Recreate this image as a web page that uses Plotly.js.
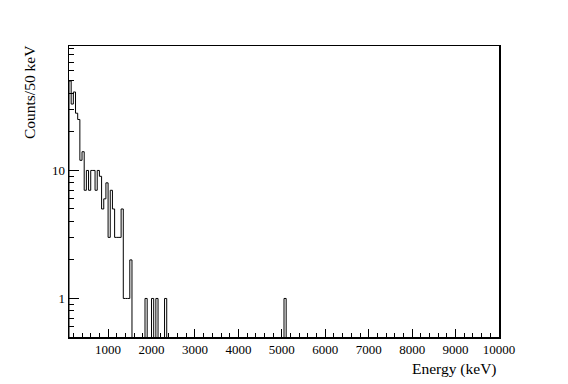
<!DOCTYPE html>
<html>
<head>
<meta charset="utf-8">
<script src="https://cdn.plot.ly/plotly-3.0.1.min.js"></script>
<style>html,body{margin:0;padding:0;background:#fff;}#chart{width:568px;height:384px;}</style>
</head>
<body>
<div id="chart"></div>
<script>
// Histogram: 50 keV bins from 100 keV to 10000 keV
const binStart = 100;
const binWidth = 50;
const binEnd = 10000;
// Counts for the bins 100-150, 150-200, ..., 1500-1550 keV
const lowCounts = [50, 33, 41, 28, 25, 12, 14, 7, 10, 7, 10, 10, 7, 10, 9, 5, 6, 8, 3, 7, 5, 3, 3, 3, 5, 1, 1, 1, 2];
// Isolated bins above 1550 keV (bin lower edge, keV) and their counts
const peakEnergies = [1850, 2000, 2100, 2300, 5050];
const peakCounts = [1, 1, 1, 1, 1];
const xTickLabels = ["1000","2000","3000","4000","5000","6000","7000","8000","9000","10000"];
const yTickValues = [1, 10];
const yTickLabels = ["1", "10"];

const nBins = Math.round((binEnd - binStart) / binWidth);
const counts = new Array(nBins).fill(0);
lowCounts.forEach((c, i) => { counts[i] = c; });
peakEnergies.forEach((e, k) => { counts[Math.round((e - binStart) / binWidth)] = peakCounts[k]; });

// zero bins are drawn below the visible log range
const floorVal = 1e-3;
const xs = [binStart], ys = [floorVal];
for (let i = 0; i < nBins; i++) {
  xs.push(binStart + i * binWidth);
  ys.push(counts[i] > 0 ? counts[i] : floorVal);
}
xs.push(binEnd); ys.push(counts[nBins - 1] > 0 ? counts[nBins - 1] : floorVal);

const xTickVals = xTickLabels.map(Number);
const yMinor = [];
[0.1, 1, 10].forEach(d => { for (let m = 2; m <= 9; m++) yMinor.push(m * d); });

const serif = "Liberation Serif, Times New Roman, serif";

const trace = {
  x: xs, y: ys, type: "scatter", mode: "lines",
  line: {shape: "hv", color: "#000", width: 1},
  hoverinfo: "skip", showlegend: false
};

const layout = {
  width: 568, height: 384,
  margin: {l: 69, r: 69, t: 46, b: 47, pad: 0},
  paper_bgcolor: "#fff", plot_bgcolor: "#fff",
  showlegend: false,
  xaxis: {
    range: [binStart, binEnd],
    tickmode: "array", tickvals: xTickVals, ticktext: xTickLabels,
    ticks: "inside", ticklen: 8, tickwidth: 1, tickcolor: "#000",
    minor: {tickmode: "linear", tick0: 0, dtick: 200, ticks: "inside", ticklen: 4, tickwidth: 1, tickcolor: "#000", showgrid: false},
    showline: true, linecolor: "#000", linewidth: 1.5, mirror: true,
    showgrid: false, zeroline: false,
    tickfont: {family: serif, size: 13, color: "#000"}
  },
  yaxis: {
    type: "log",
    range: [Math.log10(0.5), 1.972],
    tickmode: "array", tickvals: yTickValues, ticktext: yTickLabels,
    ticks: "inside", ticklen: 10, tickwidth: 1, tickcolor: "#000",
    minor: {tickmode: "array", tickvals: yMinor, ticks: "inside", ticklen: 5, tickwidth: 1, tickcolor: "#000", showgrid: false},
    showline: true, linecolor: "#000", linewidth: 1.5, mirror: true,
    showgrid: false, zeroline: false,
    tickfont: {family: serif, size: 13, color: "#000"}
  },
  annotations: [
    {text: "Energy (keV)", xref: "paper", yref: "paper", x: 1, y: -0.072,
     xanchor: "right", yanchor: "top", showarrow: false,
     font: {family: serif, size: 15.5, color: "#000"}},
    {text: "Counts/50 keV", xref: "paper", yref: "paper", x: -0.093, y: 1.01,
     xanchor: "center", yanchor: "top", textangle: -90, showarrow: false,
     font: {family: serif, size: 15.5, color: "#000"}}
  ]
};

Plotly.newPlot("chart", [trace], layout, {staticPlot: true, displayModeBar: false});
</script>
</body>
</html>
